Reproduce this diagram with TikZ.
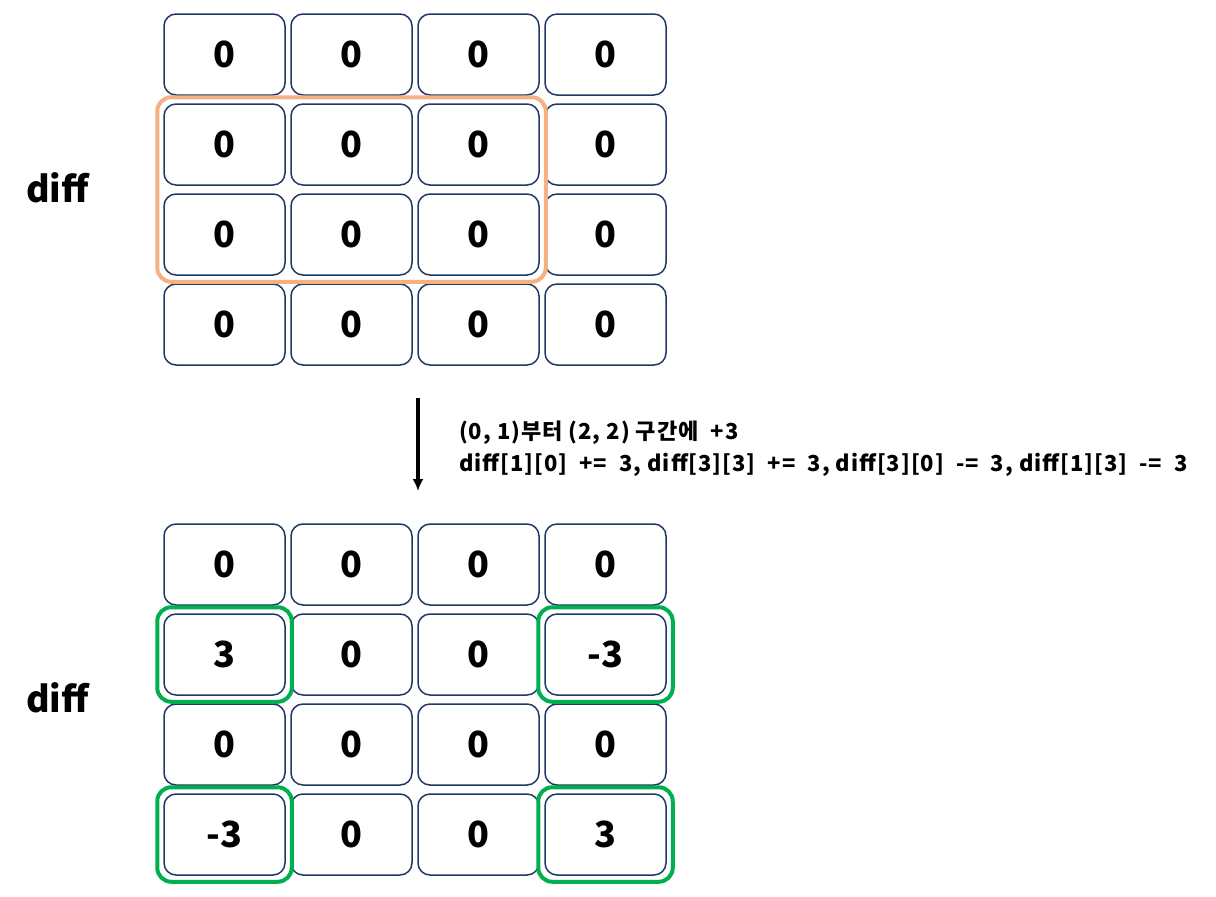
\documentclass[tikz,border=0pt]{standalone}
\usepackage{fontspec}
\setmainfont{Noto Sans CJK KR}
\newfontfamily\notefont{Noto Sans CJK KR}[LetterSpace=4.5]
\usetikzlibrary{arrows.meta,fit}
\definecolor{cellborder}{HTML}{1F3864}
\definecolor{orangebox}{HTML}{F4B183}
\definecolor{greenbox}{HTML}{00B050}
\tikzset{
  cell/.style={draw=cellborder, line width=1.5pt, rounded corners=12pt, minimum width=121pt, minimum height=81pt, inner sep=0pt, font=\fontsize{36}{40}\selectfont\bfseries, text=black},
  lbl/.style={font=\fontsize{36}{40}\selectfont\bfseries, anchor=west, inner sep=0pt},
  obox/.style={draw=orangebox, line width=4pt, rounded corners=14pt, inner sep=6pt},
  gbox/.style={draw=greenbox, line width=4pt, rounded corners=14pt, inner sep=6pt},
  note/.style={font=\notefont\fontsize{22}{32}\selectfont\bfseries, anchor=west, align=left, inner sep=0pt}
}
\begin{document}
\begin{tikzpicture}[x=1pt,y=-1pt]
\useasboundingbox (0,0) rectangle (1216,897);
% top grid
\foreach \i in {0,1,2,3}{
  \foreach \j in {0,1,2,3}{
    \node[cell] (t\i\j) at ({224.5+127*\j},{54.5+90*\i}) {0};
  }
}
\node[lbl] (tl) at (26,188) {diff};
\node[obox, fit=(t10)(t22)] (ob) {};
% arrow
\coordinate (a1) at (418,398);
\coordinate (a2) at (418,491);
\draw[line width=3.5pt, -{Latex[length=12pt,width=11pt]}] (a1) -- (a2);
\node[note] (nt) at (459,449) {(0, 1)부터 (2, 2) 구간에\ \ +3\\diff[1][0]\ \ +=\ \ 3, diff[3][3]\ \ +=\ \ 3, diff[3][0]\ \ -=\ \ 3, diff[1][3]\ \ -=\ \ 3};
% bottom grid
\foreach \i/\r in {0/{0,0,0,0},1/{3,0,0,-3},2/{0,0,0,0},3/{-3,0,0,3}}{
  \foreach \v [count=\k from 0] in \r {
    \node[cell] (b\i\k) at ({224.5+127*\k},{564.5+90*\i}) {\v};
  }
}
\node[lbl] (bl) at (26,698) {diff};
\node[gbox, fit=(b10)] (g1) {};
\node[gbox, fit=(b13)] (g2) {};
\node[gbox, fit=(b30)] (g3) {};
\node[gbox, fit=(b33)] (g4) {};
\end{tikzpicture}
\end{document}
